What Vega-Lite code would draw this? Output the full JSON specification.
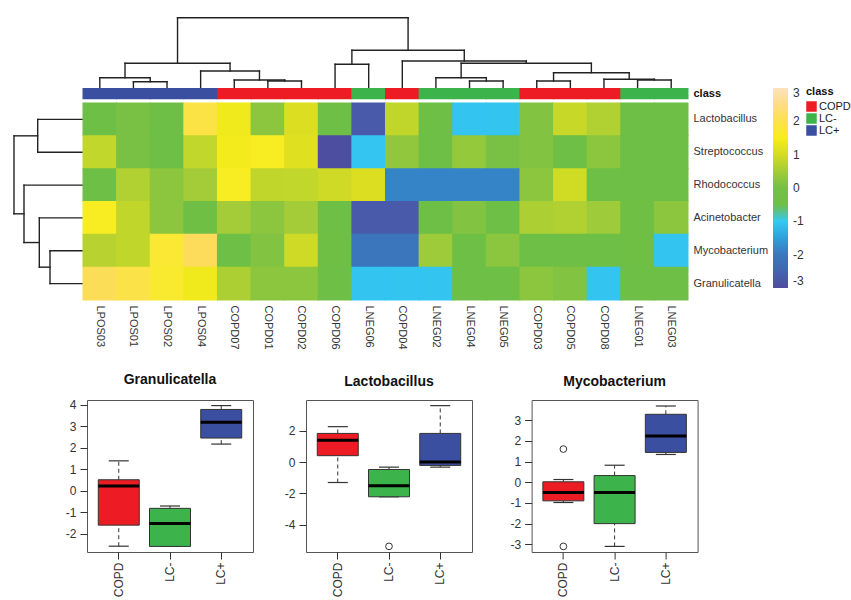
{
  "$schema": "https://vega.github.io/schema/vega-lite/v6.json",
  "padding": {"left": 13, "top": 16, "right": 0, "bottom": 0},
  "background": "white",
  "config": {
    "view": {"stroke": null},
    "font": "Liberation Sans",
    "axis": {"labelFont": "Liberation Sans", "labelColor": "#333", "grid": false, "titleFont": "Liberation Sans"},
    "legend": {"labelFont": "Liberation Sans", "titleFont": "Liberation Sans", "padding": 0}
  },
  "datasets": {
    "samples": [
      {"sample": "LPOS03", "class": "LC+"}, {"sample": "LPOS01", "class": "LC+"}, {"sample": "LPOS02", "class": "LC+"}, {"sample": "LPOS04", "class": "LC+"},
      {"sample": "COPD07", "class": "COPD"}, {"sample": "COPD01", "class": "COPD"}, {"sample": "COPD02", "class": "COPD"}, {"sample": "COPD06", "class": "COPD"},
      {"sample": "LNEG06", "class": "LC-"}, {"sample": "COPD04", "class": "COPD"}, {"sample": "LNEG02", "class": "LC-"}, {"sample": "LNEG04", "class": "LC-"},
      {"sample": "LNEG05", "class": "LC-"}, {"sample": "COPD03", "class": "COPD"}, {"sample": "COPD05", "class": "COPD"}, {"sample": "COPD08", "class": "COPD"},
      {"sample": "LNEG01", "class": "LC-"}, {"sample": "LNEG03", "class": "LC-"}
    ],
    "cells": [
      {"s": "LPOS03", "g": "Lactobacillus", "v": -0.5}, {"s": "LPOS01", "g": "Lactobacillus", "v": 0.05}, {"s": "LPOS02", "g": "Lactobacillus", "v": -0.5}, {"s": "LPOS04", "g": "Lactobacillus", "v": 1.9}, {"s": "COPD07", "g": "Lactobacillus", "v": 1.4}, {"s": "COPD01", "g": "Lactobacillus", "v": 0.25}, {"s": "COPD02", "g": "Lactobacillus", "v": 1.1}, {"s": "COPD06", "g": "Lactobacillus", "v": -0.5}, {"s": "LNEG06", "g": "Lactobacillus", "v": -2.7}, {"s": "COPD04", "g": "Lactobacillus", "v": 0.8}, {"s": "LNEG02", "g": "Lactobacillus", "v": -0.5}, {"s": "LNEG04", "g": "Lactobacillus", "v": -1.05}, {"s": "LNEG05", "g": "Lactobacillus", "v": -1.05}, {"s": "COPD03", "g": "Lactobacillus", "v": 0.15}, {"s": "COPD05", "g": "Lactobacillus", "v": 0.87}, {"s": "COPD08", "g": "Lactobacillus", "v": 0.65}, {"s": "LNEG01", "g": "Lactobacillus", "v": -0.5}, {"s": "LNEG03", "g": "Lactobacillus", "v": -0.5},
      {"s": "LPOS03", "g": "Streptococcus", "v": 0.82}, {"s": "LPOS01", "g": "Streptococcus", "v": 0.05}, {"s": "LPOS02", "g": "Streptococcus", "v": -0.5}, {"s": "LPOS04", "g": "Streptococcus", "v": 0.82}, {"s": "COPD07", "g": "Streptococcus", "v": 1.45}, {"s": "COPD01", "g": "Streptococcus", "v": 1.55}, {"s": "COPD02", "g": "Streptococcus", "v": 1.15}, {"s": "COPD06", "g": "Streptococcus", "v": -2.95}, {"s": "LNEG06", "g": "Streptococcus", "v": -1.02}, {"s": "COPD04", "g": "Streptococcus", "v": 0.3}, {"s": "LNEG02", "g": "Streptococcus", "v": -0.5}, {"s": "LNEG04", "g": "Streptococcus", "v": 0.35}, {"s": "LNEG05", "g": "Streptococcus", "v": 0.05}, {"s": "COPD03", "g": "Streptococcus", "v": 0.15}, {"s": "COPD05", "g": "Streptococcus", "v": -0.5}, {"s": "COPD08", "g": "Streptococcus", "v": 0.25}, {"s": "LNEG01", "g": "Streptococcus", "v": -0.5}, {"s": "LNEG03", "g": "Streptococcus", "v": -0.5},
      {"s": "LPOS03", "g": "Rhodococcus", "v": -0.5}, {"s": "LPOS01", "g": "Rhodococcus", "v": 0.65}, {"s": "LPOS02", "g": "Rhodococcus", "v": 0.25}, {"s": "LPOS04", "g": "Rhodococcus", "v": 0.5}, {"s": "COPD07", "g": "Rhodococcus", "v": 1.55}, {"s": "COPD01", "g": "Rhodococcus", "v": 0.8}, {"s": "COPD02", "g": "Rhodococcus", "v": 0.82}, {"s": "COPD06", "g": "Rhodococcus", "v": 0.93}, {"s": "LNEG06", "g": "Rhodococcus", "v": 1.1}, {"s": "COPD04", "g": "Rhodococcus", "v": -1.85}, {"s": "LNEG02", "g": "Rhodococcus", "v": -1.85}, {"s": "LNEG04", "g": "Rhodococcus", "v": -1.85}, {"s": "LNEG05", "g": "Rhodococcus", "v": -1.85}, {"s": "COPD03", "g": "Rhodococcus", "v": 0.25}, {"s": "COPD05", "g": "Rhodococcus", "v": 0.95}, {"s": "COPD08", "g": "Rhodococcus", "v": -0.5}, {"s": "LNEG01", "g": "Rhodococcus", "v": -0.5}, {"s": "LNEG03", "g": "Rhodococcus", "v": -0.5},
      {"s": "LPOS03", "g": "Acinetobacter", "v": 1.55}, {"s": "LPOS01", "g": "Acinetobacter", "v": 0.8}, {"s": "LPOS02", "g": "Acinetobacter", "v": 0.25}, {"s": "LPOS04", "g": "Acinetobacter", "v": -0.3}, {"s": "COPD07", "g": "Acinetobacter", "v": 0.5}, {"s": "COPD01", "g": "Acinetobacter", "v": 0.25}, {"s": "COPD02", "g": "Acinetobacter", "v": 0.5}, {"s": "COPD06", "g": "Acinetobacter", "v": -0.5}, {"s": "LNEG06", "g": "Acinetobacter", "v": -2.7}, {"s": "COPD04", "g": "Acinetobacter", "v": -2.7}, {"s": "LNEG02", "g": "Acinetobacter", "v": -0.5}, {"s": "LNEG04", "g": "Acinetobacter", "v": 0.15}, {"s": "LNEG05", "g": "Acinetobacter", "v": -0.5}, {"s": "COPD03", "g": "Acinetobacter", "v": 0.6}, {"s": "COPD05", "g": "Acinetobacter", "v": 0.65}, {"s": "COPD08", "g": "Acinetobacter", "v": 0.45}, {"s": "LNEG01", "g": "Acinetobacter", "v": -0.3}, {"s": "LNEG03", "g": "Acinetobacter", "v": 0.25},
      {"s": "LPOS03", "g": "Mycobacterium", "v": 0.72}, {"s": "LPOS01", "g": "Mycobacterium", "v": 0.8}, {"s": "LPOS02", "g": "Mycobacterium", "v": 1.7}, {"s": "LPOS04", "g": "Mycobacterium", "v": 2.2}, {"s": "COPD07", "g": "Mycobacterium", "v": -0.5}, {"s": "COPD01", "g": "Mycobacterium", "v": 0.15}, {"s": "COPD02", "g": "Mycobacterium", "v": 0.93}, {"s": "COPD06", "g": "Mycobacterium", "v": -0.3}, {"s": "LNEG06", "g": "Mycobacterium", "v": -2.05}, {"s": "COPD04", "g": "Mycobacterium", "v": -2.05}, {"s": "LNEG02", "g": "Mycobacterium", "v": 0.45}, {"s": "LNEG04", "g": "Mycobacterium", "v": -0.5}, {"s": "LNEG05", "g": "Mycobacterium", "v": 0.25}, {"s": "COPD03", "g": "Mycobacterium", "v": -0.5}, {"s": "COPD05", "g": "Mycobacterium", "v": -0.5}, {"s": "COPD08", "g": "Mycobacterium", "v": -0.5}, {"s": "LNEG01", "g": "Mycobacterium", "v": -0.4}, {"s": "LNEG03", "g": "Mycobacterium", "v": -1.05},
      {"s": "LPOS03", "g": "Granulicatella", "v": 2.15}, {"s": "LPOS01", "g": "Granulicatella", "v": 1.95}, {"s": "LPOS02", "g": "Granulicatella", "v": 1.65}, {"s": "LPOS04", "g": "Granulicatella", "v": 1.4}, {"s": "COPD07", "g": "Granulicatella", "v": 0.6}, {"s": "COPD01", "g": "Granulicatella", "v": 0.25}, {"s": "COPD02", "g": "Granulicatella", "v": 0.25}, {"s": "COPD06", "g": "Granulicatella", "v": -0.5}, {"s": "LNEG06", "g": "Granulicatella", "v": -1.05}, {"s": "COPD04", "g": "Granulicatella", "v": -1.05}, {"s": "LNEG02", "g": "Granulicatella", "v": -1.05}, {"s": "LNEG04", "g": "Granulicatella", "v": -0.5}, {"s": "LNEG05", "g": "Granulicatella", "v": -0.5}, {"s": "COPD03", "g": "Granulicatella", "v": 0.25}, {"s": "COPD05", "g": "Granulicatella", "v": 0.15}, {"s": "COPD08", "g": "Granulicatella", "v": -1.05}, {"s": "LNEG01", "g": "Granulicatella", "v": -0.5}, {"s": "LNEG03", "g": "Granulicatella", "v": -0.5}
    ],
    "coldendro": [
      {"x": 1, "y": 0, "x2": 1, "y2": 6.3}, {"x": 2, "y": 0, "x2": 2, "y2": 6.3}, {"x": 1, "y": 6.3, "x2": 2, "y2": 6.3},
      {"x": 0, "y": 0, "x2": 0, "y2": 10.3}, {"x": 1.5, "y": 6.3, "x2": 1.5, "y2": 10.3}, {"x": 0, "y": 10.3, "x2": 1.5, "y2": 10.3},
      {"x": 5, "y": 0, "x2": 5, "y2": 7}, {"x": 6, "y": 0, "x2": 6, "y2": 7}, {"x": 5, "y": 7, "x2": 6, "y2": 7},
      {"x": 4, "y": 0, "x2": 4, "y2": 8}, {"x": 5.5, "y": 7, "x2": 5.5, "y2": 8}, {"x": 4, "y": 8, "x2": 5.5, "y2": 8},
      {"x": 3, "y": 0, "x2": 3, "y2": 17}, {"x": 4.75, "y": 8, "x2": 4.75, "y2": 17}, {"x": 3, "y": 17, "x2": 4.75, "y2": 17},
      {"x": 0.75, "y": 10.3, "x2": 0.75, "y2": 24.7}, {"x": 3.875, "y": 17, "x2": 3.875, "y2": 24.7}, {"x": 0.75, "y": 24.7, "x2": 3.875, "y2": 24.7},
      {"x": 7, "y": 0, "x2": 7, "y2": 23.7}, {"x": 8, "y": 0, "x2": 8, "y2": 23.7}, {"x": 7, "y": 23.7, "x2": 8, "y2": 23.7},
      {"x": 11, "y": 0, "x2": 11, "y2": 7}, {"x": 12, "y": 0, "x2": 12, "y2": 7}, {"x": 11, "y": 7, "x2": 12, "y2": 7},
      {"x": 10, "y": 0, "x2": 10, "y2": 10.3}, {"x": 11.5, "y": 7, "x2": 11.5, "y2": 10.3}, {"x": 10, "y": 10.3, "x2": 11.5, "y2": 10.3},
      {"x": 13, "y": 0, "x2": 13, "y2": 7}, {"x": 14, "y": 0, "x2": 14, "y2": 7}, {"x": 13, "y": 7, "x2": 14, "y2": 7},
      {"x": 16, "y": 0, "x2": 16, "y2": 8}, {"x": 17, "y": 0, "x2": 17, "y2": 8}, {"x": 16, "y": 8, "x2": 17, "y2": 8},
      {"x": 15, "y": 0, "x2": 15, "y2": 8.7}, {"x": 16.5, "y": 8, "x2": 16.5, "y2": 8.7}, {"x": 15, "y": 8.7, "x2": 16.5, "y2": 8.7},
      {"x": 13.5, "y": 7, "x2": 13.5, "y2": 15.3}, {"x": 15.75, "y": 8.7, "x2": 15.75, "y2": 15.3}, {"x": 13.5, "y": 15.3, "x2": 15.75, "y2": 15.3},
      {"x": 10.75, "y": 10.3, "x2": 10.75, "y2": 24.7}, {"x": 14.625, "y": 15.3, "x2": 14.625, "y2": 24.7}, {"x": 10.75, "y": 24.7, "x2": 14.625, "y2": 24.7},
      {"x": 9, "y": 0, "x2": 9, "y2": 27}, {"x": 12.6875, "y": 24.7, "x2": 12.6875, "y2": 27}, {"x": 9, "y": 27, "x2": 12.6875, "y2": 27},
      {"x": 7.5, "y": 23.7, "x2": 7.5, "y2": 37.7}, {"x": 10.84375, "y": 27, "x2": 10.84375, "y2": 37.7}, {"x": 7.5, "y": 37.7, "x2": 10.84375, "y2": 37.7},
      {"x": 2.3125, "y": 24.7, "x2": 2.3125, "y2": 70.3}, {"x": 9.171875, "y": 37.7, "x2": 9.171875, "y2": 70.3}, {"x": 2.3125, "y": 70.3, "x2": 9.171875, "y2": 70.3}
    ],
    "rowdendro": [
      {"h": 0, "r": 0, "h2": 45.3, "r2": 0}, {"h": 0, "r": 1, "h2": 45.3, "r2": 1}, {"h": 45.3, "r": 0, "h2": 45.3, "r2": 1},
      {"h": 0, "r": 4, "h2": 33, "r2": 4}, {"h": 0, "r": 5, "h2": 33, "r2": 5}, {"h": 33, "r": 4, "h2": 33, "r2": 5},
      {"h": 0, "r": 3, "h2": 43.7, "r2": 3}, {"h": 33, "r": 4.5, "h2": 43.7, "r2": 4.5}, {"h": 43.7, "r": 3, "h2": 43.7, "r2": 4.5},
      {"h": 0, "r": 2, "h2": 59, "r2": 2}, {"h": 43.7, "r": 3.75, "h2": 59, "r2": 3.75}, {"h": 59, "r": 2, "h2": 59, "r2": 3.75},
      {"h": 45.3, "r": 0.5, "h2": 69, "r2": 0.5}, {"h": 59, "r": 2.875, "h2": 69, "r2": 2.875}, {"h": 69, "r": 0.5, "h2": 69, "r2": 2.875}
    ],
    "box": [
      {"genus": "Granulicatella", "group": "COPD", "lower": -2.59, "q1": -1.61, "median": 0.21, "q3": 0.5, "upper": 1.38},
      {"genus": "Granulicatella", "group": "LC-", "lower": -2.6, "q1": -2.6, "median": -1.54, "q3": -0.83, "upper": -0.72},
      {"genus": "Granulicatella", "group": "LC+", "lower": 2.16, "q1": 2.44, "median": 3.18, "q3": 3.77, "upper": 3.95},
      {"genus": "Lactobacillus", "group": "COPD", "lower": -1.3, "q1": 0.41, "median": 1.39, "q3": 1.83, "upper": 2.26},
      {"genus": "Lactobacillus", "group": "LC-", "lower": -2.21, "q1": -2.21, "median": -1.51, "q3": -0.47, "upper": -0.32},
      {"genus": "Lactobacillus", "group": "LC+", "lower": -0.32, "q1": -0.21, "median": 0.0, "q3": 1.83, "upper": 3.6},
      {"genus": "Mycobacterium", "group": "COPD", "lower": -0.98, "q1": -0.9, "median": -0.5, "q3": 0.02, "upper": 0.13},
      {"genus": "Mycobacterium", "group": "LC-", "lower": -3.1, "q1": -2.0, "median": -0.5, "q3": 0.32, "upper": 0.82},
      {"genus": "Mycobacterium", "group": "LC+", "lower": 1.34, "q1": 1.44, "median": 2.23, "q3": 3.28, "upper": 3.68}
    ],
    "outliers": [
      {"genus": "Lactobacillus", "group": "LC-", "value": -5.37},
      {"genus": "Mycobacterium", "group": "COPD", "value": 1.6},
      {"genus": "Mycobacterium", "group": "COPD", "value": -3.1}
    ]
  },
  "spacing": 22,
  "resolve": {"scale": {"color": "independent", "fill": "independent"}, "legend": {"color": "independent", "fill": "independent"}},
  "vconcat": [
    {
      "columns": 2,
      "bounds": "flush",
      "spacing": {"row": 0, "column": 0},
      "resolve": {"scale": {"color": "independent"}, "legend": {"color": "independent"}},
      "concat": [
        {"width": 70, "height": 71, "data": {"values": []}, "mark": "point"},
        {
          "width": 605, "height": 71,
          "data": {"name": "coldendro"},
          "mark": {"type": "rule", "color": "#222", "strokeWidth": 1.4, "strokeCap": "square"},
          "encoding": {
            "x": {"field": "x", "type": "quantitative", "scale": {"domain": [-0.5, 17.5], "nice": false, "zero": false}, "axis": null},
            "x2": {"field": "x2"},
            "y": {"field": "y", "type": "quantitative", "scale": {"domain": [0, 71], "nice": false, "zero": false}, "axis": null},
            "y2": {"field": "y2"}
          }
        },
        {"width": 70, "height": 15, "data": {"values": []}, "mark": "point"},
        {
          "width": 605, "height": 15,
          "data": {"name": "samples"},
          "mark": {"type": "rect", "width": {"band": 1.03}},
          "encoding": {
            "x": {"field": "sample", "type": "nominal", "scale": {"domain": ["LPOS03","LPOS01","LPOS02","LPOS04","COPD07","COPD01","COPD02","COPD06","LNEG06","COPD04","LNEG02","LNEG04","LNEG05","COPD03","COPD05","COPD08","LNEG01","LNEG03"], "paddingInner": 0, "paddingOuter": 0}, "axis": null},
            "y": {"datum": "class", "type": "nominal", "scale": {"paddingInner": 0, "paddingOuter": 0.164, "align": 0}, "axis": {"orient": "right", "title": null, "ticks": false, "tickSize": 0, "domain": false, "labelFontSize": 11, "labelFontWeight": "bold", "labelColor": "#111", "labelPadding": 5}},
            "color": {"field": "class", "type": "nominal", "scale": {"domain": ["COPD", "LC-", "LC+"], "range": ["#ed1c24", "#3cb44b", "#3a4fa0"]},
              "legend": {"orient": "none", "legendX": 723, "legendY": -2, "title": "class", "titleFontSize": 11, "titleFontWeight": "bold", "titleColor": "#111", "titlePadding": 4, "symbolType": "square", "symbolSize": 110, "symbolStrokeWidth": 0, "symbolOpacity": 1, "labelFontSize": 11, "labelColor": "#222", "labelOffset": 2, "rowPadding": 0}}
          }
        },
        {
          "width": 70, "height": 197,
          "data": {"name": "rowdendro"},
          "mark": {"type": "rule", "color": "#222", "strokeWidth": 1.4, "strokeCap": "square"},
          "encoding": {
            "x": {"field": "h", "type": "quantitative", "scale": {"domain": [0, 70], "nice": false, "zero": false, "reverse": true}, "axis": null},
            "x2": {"field": "h2"},
            "y": {"field": "r", "type": "quantitative", "scale": {"domain": [-0.5, 5.5], "nice": false, "zero": false, "reverse": true}, "axis": null},
            "y2": {"field": "r2"}
          }
        },
        {
          "width": 605, "height": 197,
          "data": {"name": "cells"},
          "mark": {"type": "rect", "width": {"band": 1.03}, "height": {"band": 1.03}},
          "encoding": {
            "x": {"field": "s", "type": "nominal", "scale": {"domain": ["LPOS03","LPOS01","LPOS02","LPOS04","COPD07","COPD01","COPD02","COPD06","LNEG06","COPD04","LNEG02","LNEG04","LNEG05","COPD03","COPD05","COPD08","LNEG01","LNEG03"], "paddingInner": 0, "paddingOuter": 0},
              "axis": {"orient": "bottom", "title": null, "labelAngle": 90, "ticks": false, "tickSize": 0, "domain": false, "labelFontSize": 11, "labelPadding": 5, "labelColor": "#333"}},
            "y": {"field": "g", "type": "nominal", "scale": {"domain": ["Lactobacillus","Streptococcus","Rhodococcus","Acinetobacter","Mycobacterium","Granulicatella"], "paddingInner": 0, "paddingOuter": 0},
              "axis": {"orient": "right", "title": null, "ticks": false, "tickSize": 0, "domain": false, "labelFontSize": 11, "labelPadding": 5, "labelColor": "#333"}},
            "color": {"field": "v", "type": "quantitative",
              "scale": {"domain": [-3, -2, -1, -0.999, 0, 0.5, 1, 1.5, 2.2, 3], "range": ["#4f4c9f", "#3a78be", "#35c8f2", "#67bd46", "#74c045", "#a3cc38", "#d5dc22", "#f7ed1b", "#fcdc5a", "#fde3bd"], "nice": false, "zero": false, "clamp": true},
              "legend": {"orient": "none", "legendX": 690, "legendY": -15, "direction": "vertical", "title": null, "gradientLength": 200, "gradientThickness": 15, "gradientStrokeWidth": 0, "values": [-3, -2, -1, 0, 1, 2, 3], "labelExpr": "'' + datum.value", "tickCount": 120, "labelFontSize": 12, "labelOffset": 5, "labelColor": "#333", "labelBaseline": "middle"}}
          }
        }
      ]
    },
    {
      "bounds": "flush",
      "spacing": 53,
      "hconcat": [
        {"width": 21, "height": 152, "data": {"values": []}, "mark": "point"},
        {
          "width": 166, "height": 152,
          "title": {"text": "Granulicatella", "fontSize": 14, "fontWeight": "bold", "font": "Liberation Sans", "color": "#111", "offset": 11.5},
          "view": {"stroke": "#555", "strokeWidth": 1},
          "data": {"name": "box"},
          "transform": [{"filter": "datum.genus === 'Granulicatella'"}],
          "encoding": {
            "x": {"field": "group", "type": "nominal", "scale": {"domain": ["COPD", "LC-", "LC+"], "paddingInner": 0, "paddingOuter": 0.12},
              "axis": {"title": null, "labelAngle": 270, "tickSize": 7, "domain": false, "labelFontSize": 12, "labelPadding": 3, "tickColor": "#333", "labelColor": "#333"}}
          },
          "layer": [
            {"mark": {"type": "rule", "strokeDash": [4, 3], "color": "#333", "strokeWidth": 1},
             "encoding": {"y": {"field": "q3", "type": "quantitative", "scale": {"domain": [-2.86, 4.21], "nice": false, "zero": false}, "axis": {"title": null, "values": [-2, -1, 0, 1, 2, 3, 4], "labelExpr": "'' + datum.value", "tickSize": 7, "domain": false, "labelFontSize": 12, "labelPadding": 4, "tickColor": "#333", "labelColor": "#333"}}, "y2": {"field": "upper"}}},
            {"mark": {"type": "rule", "strokeDash": [4, 3], "color": "#333", "strokeWidth": 1},
             "encoding": {"y": {"field": "lower", "type": "quantitative", "scale": {"domain": [-2.86, 4.21], "nice": false, "zero": false}, "axis": {"title": null, "values": [-2, -1, 0, 1, 2, 3, 4], "labelExpr": "'' + datum.value", "tickSize": 7, "domain": false, "labelFontSize": 12, "labelPadding": 4, "tickColor": "#333", "labelColor": "#333"}}, "y2": {"field": "q1"}}},
            {"mark": {"type": "tick", "size": 20, "thickness": 1.2, "color": "#333", "opacity": 1},
             "encoding": {"y": {"field": "upper", "type": "quantitative", "scale": {"domain": [-2.86, 4.21], "nice": false, "zero": false}, "axis": {"title": null, "values": [-2, -1, 0, 1, 2, 3, 4], "labelExpr": "'' + datum.value", "tickSize": 7, "domain": false, "labelFontSize": 12, "labelPadding": 4, "tickColor": "#333", "labelColor": "#333"}}}},
            {"mark": {"type": "tick", "size": 20, "thickness": 1.2, "color": "#333", "opacity": 1},
             "encoding": {"y": {"field": "lower", "type": "quantitative", "scale": {"domain": [-2.86, 4.21], "nice": false, "zero": false}, "axis": {"title": null, "values": [-2, -1, 0, 1, 2, 3, 4], "labelExpr": "'' + datum.value", "tickSize": 7, "domain": false, "labelFontSize": 12, "labelPadding": 4, "tickColor": "#333", "labelColor": "#333"}}}},
            {"mark": {"type": "bar", "width": {"band": 0.8}, "stroke": "#333", "strokeWidth": 1},
             "encoding": {"y": {"field": "q1", "type": "quantitative", "scale": {"domain": [-2.86, 4.21], "nice": false, "zero": false}, "axis": {"title": null, "values": [-2, -1, 0, 1, 2, 3, 4], "labelExpr": "'' + datum.value", "tickSize": 7, "domain": false, "labelFontSize": 12, "labelPadding": 4, "tickColor": "#333", "labelColor": "#333"}}, "y2": {"field": "q3"},
               "fill": {"field": "group", "type": "nominal", "scale": {"domain": ["COPD", "LC-", "LC+"], "range": ["#ed1c24", "#3cb44b", "#3a4fa0"]}, "legend": null}}},
            {"mark": {"type": "tick", "size": 41, "thickness": 3, "color": "#000", "opacity": 1},
             "encoding": {"y": {"field": "median", "type": "quantitative", "scale": {"domain": [-2.86, 4.21], "nice": false, "zero": false}, "axis": {"title": null, "values": [-2, -1, 0, 1, 2, 3, 4], "labelExpr": "'' + datum.value", "tickSize": 7, "domain": false, "labelFontSize": 12, "labelPadding": 4, "tickColor": "#333", "labelColor": "#333"}}}}
          ]
        },
        {
          "bounds": "flush",
          "spacing": 59.6,
          "hconcat": [
            {
              "width": 166, "height": 152,
              "title": {"text": "Lactobacillus", "fontSize": 14, "fontWeight": "bold", "font": "Liberation Sans", "color": "#111", "offset": 11.5},
              "view": {"stroke": "#555", "strokeWidth": 1},
              "data": {"name": "box"},
              "transform": [{"filter": "datum.genus === 'Lactobacillus'"}],
              "encoding": {
                "x": {"field": "group", "type": "nominal", "scale": {"domain": ["COPD", "LC-", "LC+"], "paddingInner": 0, "paddingOuter": 0.12},
                  "axis": {"title": null, "labelAngle": 270, "tickSize": 7, "domain": false, "labelFontSize": 12, "labelPadding": 3, "tickColor": "#333", "labelColor": "#333"}}
              },
              "layer": [
                {"mark": {"type": "rule", "strokeDash": [4, 3], "color": "#333", "strokeWidth": 1},
                 "encoding": {"y": {"field": "q3", "type": "quantitative", "scale": {"domain": [-5.73, 3.96], "nice": false, "zero": false}, "axis": {"title": null, "values": [-4, -2, 0, 2], "labelExpr": "'' + datum.value", "tickSize": 7, "domain": false, "labelFontSize": 12, "labelPadding": 4, "tickColor": "#333", "labelColor": "#333"}}, "y2": {"field": "upper"}}},
                {"mark": {"type": "rule", "strokeDash": [4, 3], "color": "#333", "strokeWidth": 1},
                 "encoding": {"y": {"field": "lower", "type": "quantitative", "scale": {"domain": [-5.73, 3.96], "nice": false, "zero": false}, "axis": {"title": null, "values": [-4, -2, 0, 2], "labelExpr": "'' + datum.value", "tickSize": 7, "domain": false, "labelFontSize": 12, "labelPadding": 4, "tickColor": "#333", "labelColor": "#333"}}, "y2": {"field": "q1"}}},
                {"mark": {"type": "tick", "size": 20, "thickness": 1.2, "color": "#333", "opacity": 1},
                 "encoding": {"y": {"field": "upper", "type": "quantitative", "scale": {"domain": [-5.73, 3.96], "nice": false, "zero": false}, "axis": {"title": null, "values": [-4, -2, 0, 2], "labelExpr": "'' + datum.value", "tickSize": 7, "domain": false, "labelFontSize": 12, "labelPadding": 4, "tickColor": "#333", "labelColor": "#333"}}}},
                {"mark": {"type": "tick", "size": 20, "thickness": 1.2, "color": "#333", "opacity": 1},
                 "encoding": {"y": {"field": "lower", "type": "quantitative", "scale": {"domain": [-5.73, 3.96], "nice": false, "zero": false}, "axis": {"title": null, "values": [-4, -2, 0, 2], "labelExpr": "'' + datum.value", "tickSize": 7, "domain": false, "labelFontSize": 12, "labelPadding": 4, "tickColor": "#333", "labelColor": "#333"}}}},
                {"mark": {"type": "bar", "width": {"band": 0.8}, "stroke": "#333", "strokeWidth": 1},
                 "encoding": {"y": {"field": "q1", "type": "quantitative", "scale": {"domain": [-5.73, 3.96], "nice": false, "zero": false}, "axis": {"title": null, "values": [-4, -2, 0, 2], "labelExpr": "'' + datum.value", "tickSize": 7, "domain": false, "labelFontSize": 12, "labelPadding": 4, "tickColor": "#333", "labelColor": "#333"}}, "y2": {"field": "q3"},
                   "fill": {"field": "group", "type": "nominal", "scale": {"domain": ["COPD", "LC-", "LC+"], "range": ["#ed1c24", "#3cb44b", "#3a4fa0"]}, "legend": null}}},
                {"mark": {"type": "tick", "size": 41, "thickness": 3, "color": "#000", "opacity": 1},
                 "encoding": {"y": {"field": "median", "type": "quantitative", "scale": {"domain": [-5.73, 3.96], "nice": false, "zero": false}, "axis": {"title": null, "values": [-4, -2, 0, 2], "labelExpr": "'' + datum.value", "tickSize": 7, "domain": false, "labelFontSize": 12, "labelPadding": 4, "tickColor": "#333", "labelColor": "#333"}}}},
                {"data": {"name": "outliers"}, "transform": [{"filter": "datum.genus === 'Lactobacillus'"}],
                 "mark": {"type": "point", "shape": "circle", "size": 45, "stroke": "#333", "strokeWidth": 1, "filled": false, "opacity": 1},
                 "encoding": {"y": {"field": "value", "type": "quantitative", "scale": {"domain": [-5.73, 3.96], "nice": false, "zero": false}, "axis": {"title": null, "values": [-4, -2, 0, 2], "labelExpr": "'' + datum.value", "tickSize": 7, "domain": false, "labelFontSize": 12, "labelPadding": 4, "tickColor": "#333", "labelColor": "#333"}}}}
              ]
            },
            {
              "width": 166, "height": 152,
              "title": {"text": "Mycobacterium", "fontSize": 14, "fontWeight": "bold", "font": "Liberation Sans", "color": "#111", "offset": 11.5},
              "view": {"stroke": "#555", "strokeWidth": 1},
              "data": {"name": "box"},
              "transform": [{"filter": "datum.genus === 'Mycobacterium'"}],
              "encoding": {
                "x": {"field": "group", "type": "nominal", "scale": {"domain": ["COPD", "LC-", "LC+"], "paddingInner": 0, "paddingOuter": 0.12},
                  "axis": {"title": null, "labelAngle": 270, "tickSize": 7, "domain": false, "labelFontSize": 12, "labelPadding": 3, "tickColor": "#333", "labelColor": "#333"}}
              },
              "layer": [
                {"mark": {"type": "rule", "strokeDash": [4, 3], "color": "#333", "strokeWidth": 1},
                 "encoding": {"y": {"field": "q3", "type": "quantitative", "scale": {"domain": [-3.37, 3.97], "nice": false, "zero": false}, "axis": {"title": null, "values": [-3, -2, -1, 0, 1, 2, 3], "labelExpr": "'' + datum.value", "tickSize": 7, "domain": false, "labelFontSize": 12, "labelPadding": 4, "tickColor": "#333", "labelColor": "#333"}}, "y2": {"field": "upper"}}},
                {"mark": {"type": "rule", "strokeDash": [4, 3], "color": "#333", "strokeWidth": 1},
                 "encoding": {"y": {"field": "lower", "type": "quantitative", "scale": {"domain": [-3.37, 3.97], "nice": false, "zero": false}, "axis": {"title": null, "values": [-3, -2, -1, 0, 1, 2, 3], "labelExpr": "'' + datum.value", "tickSize": 7, "domain": false, "labelFontSize": 12, "labelPadding": 4, "tickColor": "#333", "labelColor": "#333"}}, "y2": {"field": "q1"}}},
                {"mark": {"type": "tick", "size": 20, "thickness": 1.2, "color": "#333", "opacity": 1},
                 "encoding": {"y": {"field": "upper", "type": "quantitative", "scale": {"domain": [-3.37, 3.97], "nice": false, "zero": false}, "axis": {"title": null, "values": [-3, -2, -1, 0, 1, 2, 3], "labelExpr": "'' + datum.value", "tickSize": 7, "domain": false, "labelFontSize": 12, "labelPadding": 4, "tickColor": "#333", "labelColor": "#333"}}}},
                {"mark": {"type": "tick", "size": 20, "thickness": 1.2, "color": "#333", "opacity": 1},
                 "encoding": {"y": {"field": "lower", "type": "quantitative", "scale": {"domain": [-3.37, 3.97], "nice": false, "zero": false}, "axis": {"title": null, "values": [-3, -2, -1, 0, 1, 2, 3], "labelExpr": "'' + datum.value", "tickSize": 7, "domain": false, "labelFontSize": 12, "labelPadding": 4, "tickColor": "#333", "labelColor": "#333"}}}},
                {"mark": {"type": "bar", "width": {"band": 0.8}, "stroke": "#333", "strokeWidth": 1},
                 "encoding": {"y": {"field": "q1", "type": "quantitative", "scale": {"domain": [-3.37, 3.97], "nice": false, "zero": false}, "axis": {"title": null, "values": [-3, -2, -1, 0, 1, 2, 3], "labelExpr": "'' + datum.value", "tickSize": 7, "domain": false, "labelFontSize": 12, "labelPadding": 4, "tickColor": "#333", "labelColor": "#333"}}, "y2": {"field": "q3"},
                   "fill": {"field": "group", "type": "nominal", "scale": {"domain": ["COPD", "LC-", "LC+"], "range": ["#ed1c24", "#3cb44b", "#3a4fa0"]}, "legend": null}}},
                {"mark": {"type": "tick", "size": 41, "thickness": 3, "color": "#000", "opacity": 1},
                 "encoding": {"y": {"field": "median", "type": "quantitative", "scale": {"domain": [-3.37, 3.97], "nice": false, "zero": false}, "axis": {"title": null, "values": [-3, -2, -1, 0, 1, 2, 3], "labelExpr": "'' + datum.value", "tickSize": 7, "domain": false, "labelFontSize": 12, "labelPadding": 4, "tickColor": "#333", "labelColor": "#333"}}}},
                {"data": {"name": "outliers"}, "transform": [{"filter": "datum.genus === 'Mycobacterium'"}],
                 "mark": {"type": "point", "shape": "circle", "size": 45, "stroke": "#333", "strokeWidth": 1, "filled": false, "opacity": 1},
                 "encoding": {"y": {"field": "value", "type": "quantitative", "scale": {"domain": [-3.37, 3.97], "nice": false, "zero": false}, "axis": {"title": null, "values": [-3, -2, -1, 0, 1, 2, 3], "labelExpr": "'' + datum.value", "tickSize": 7, "domain": false, "labelFontSize": 12, "labelPadding": 4, "tickColor": "#333", "labelColor": "#333"}}}}
              ]
            }
          ]
        }
      ]
    }
  ]
}
